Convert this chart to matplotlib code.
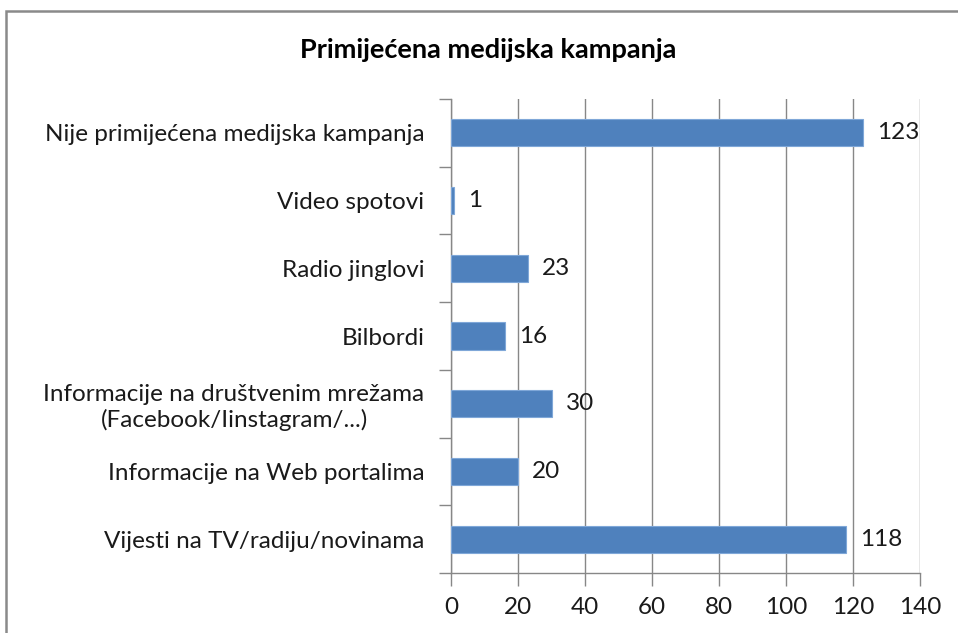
import matplotlib
matplotlib.use("Agg")
import matplotlib.pyplot as plt
from matplotlib.patches import Rectangle
import numpy as np

categories = [
    "Nije primijećena medijska kampanja",
    "Video spotovi",
    "Radio jinglovi",
    "Bilbordi",
    "Informacije na društvenim mrežama\n(Facebook/Iinstagram/...)",
    "Informacije na Web portalima",
    "Vijesti na TV/radiju/novinama",
]
values = [123, 1, 23, 16, 30, 20, 118]
xticks = [0, 20, 40, 60, 80, 100, 120, 140]
title = "Primijećena medijska kampanja"

plt.rcParams['font.family'] = ['Lato', 'DejaVu Sans']
W, H = 958, 633
fig = plt.figure(figsize=(W / 100, H / 100), dpi=100)
fig.patch.set_facecolor("white")

ax = fig.add_axes([451 / W, 1 - 573 / H, (920 - 451) / W, (573 - 99) / H])

n = len(categories)
ypos = np.arange(n)[::-1]  # first category at top
bar_color = "#4F81BD"
ax.barh(ypos, values, height=0.4, color=bar_color, edgecolor="#7FA7D8", linewidth=0.8, zorder=3)

ax.set_xlim(0, 140)
ax.set_ylim(-0.5, n - 0.5)
ax.set_xticks(xticks)
ax.set_xticklabels([str(t) for t in xticks])
ax.set_yticks(ypos)
ax.set_yticklabels(categories, ha="right", multialignment="center")
ax.set_yticks(np.arange(-0.5, n, 1.0), minor=True)

grid_c = "#878787"
ax.grid(axis="x", color=grid_c, linewidth=1.0, zorder=0)
for s in ["top", "right"]:
    ax.spines[s].set_visible(False)
for s in ["left", "bottom"]:
    ax.spines[s].set_color(grid_c)
    ax.spines[s].set_linewidth(1.0)

fs = 17.5
ax.tick_params(axis="y", which="major", length=0, pad=19, labelsize=fs, labelcolor="#1a1a1a")
ax.tick_params(axis="y", which="minor", length=9, width=1.0, color=grid_c, direction="out")
ax.tick_params(axis="x", which="major", length=9, width=1.0, color=grid_c, direction="out",
               pad=8, labelsize=fs, labelcolor="#1a1a1a")

for y, v in zip(ypos, values):
    ax.annotate(str(v), xy=(v, y), xytext=(14, 0), textcoords="offset pixels",
                ha="left", va="center", fontsize=fs, color="#1a1a1a")

fig.text(488 / W, 1 - 50 / H, title, ha="center", va="center", fontsize=19.5, fontweight="bold", color="black")

# chart area border
fig.patches.append(Rectangle((6 / W, -0.05), 1.1, 1 - 11 / H + 0.05, transform=fig.transFigure,
                             fill=False, edgecolor="#8a8a8a", linewidth=1.8, figure=fig))

fig.savefig("out.png", dpi=100)
